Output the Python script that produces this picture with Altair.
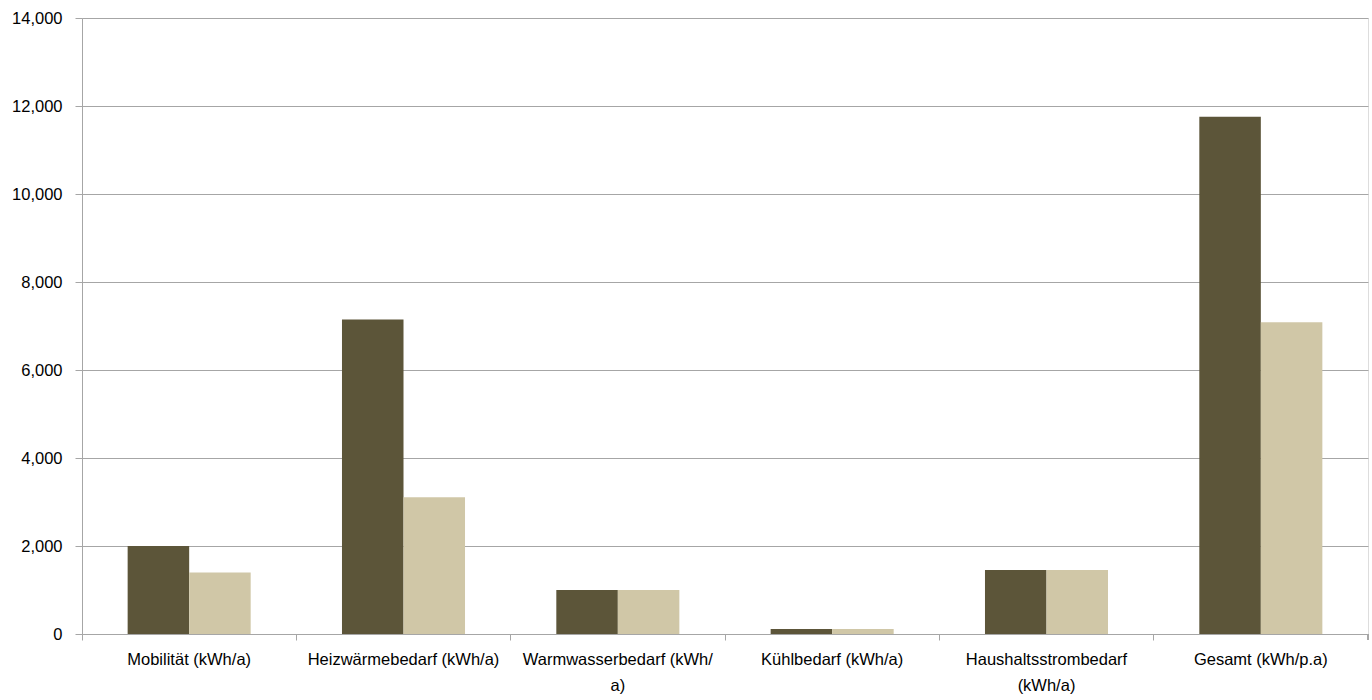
import altair as alt
import pandas as pd

categories = [
    "Mobilität (kWh/a)",
    "Heizwärmebedarf (kWh/a)",
    "Warmwasserbedarf (kWh/a)",
    "Kühlbedarf (kWh/a)",
    "Haushaltsstrombedarf (kWh/a)",
    "Gesamt (kWh/p.a)",
]
label_lines = [
    ["Mobilität (kWh/a)"],
    ["Heizwärmebedarf (kWh/a)"],
    ["Warmwasserbedarf (kWh/", "a)"],
    ["Kühlbedarf (kWh/a)"],
    ["Haushaltsstrombedarf", "(kWh/a)"],
    ["Gesamt (kWh/p.a)"],
]
series_names = ["Serie 1", "Serie 2"]
series1 = [2000, 7150, 1000, 115, 1455, 11755]
series2 = [1395, 3110, 1000, 115, 1455, 7085]
colors = ["#5C5539", "#D0C7A7"]
y_ticks = [0, 2000, 4000, 6000, 8000, 10000, 12000, 14000]

rows = []
for c, a, b in zip(categories, series1, series2):
    rows.append({"Kategorie": c, "Serie": series_names[0], "Wert": a})
    rows.append({"Kategorie": c, "Serie": series_names[1], "Wert": b})
df = pd.DataFrame(rows)

# label expression for line-wrapped category labels
parts = []
for c, lines in zip(categories, label_lines):
    arr = "[" + ",".join("'" + l + "'" for l in lines) + "]"
    parts.append(f"datum.value == '{c}' ? {arr} : ")
label_expr = "".join(parts) + "datum.value"

W, H = 1286, 616
grey = "#A6A6A6"
font = "Liberation Sans"
fsize = 16.5

bars = alt.Chart(df).mark_bar().encode(
    x=alt.X(
        "Kategorie:N",
        sort=categories,
        scale=alt.Scale(paddingInner=0, paddingOuter=0),
        axis=alt.Axis(
            title=None,
            labelAngle=0,
            bandPosition=0,
            labelExpr=label_expr,
            labelFont=font,
            labelFontSize=fsize,
            labelColor="#000000",
            labelPadding=11,
            labelLineHeight=26,
            labelLimit=300,
            tickColor=grey,
            tickSize=6,
            domainColor=grey,
            grid=False,
        ),
    ),
    xOffset=alt.XOffset(
        "Serie:N",
        sort=series_names,
        scale=alt.Scale(paddingInner=0, paddingOuter=0.742),
    ),
    y=alt.Y(
        "Wert:Q",
        scale=alt.Scale(domain=[0, 14000], nice=False),
        axis=alt.Axis(
            title=None,
            values=y_ticks,
            format=",d",
            labelFont=font,
            labelFontSize=fsize,
            labelColor="#000000",
            labelPadding=13,
            tickColor=grey,
            tickSize=7,
            domainColor=grey,
            gridColor=grey,
            gridWidth=1,
        ),
    ),
    color=alt.Color(
        "Serie:N",
        sort=series_names,
        scale=alt.Scale(domain=series_names, range=colors),
        legend=None,
    ),
)

end_tick = alt.Chart(df).mark_rule(color=grey).encode(
    x=alt.value(W), y=alt.value(H), y2=alt.value(H + 6)
)

chart = alt.layer(bars, end_tick).properties(
    width=W,
    height=H,
    autosize=alt.AutoSizeParams(type="none"),
    padding={"left": 82, "top": 18, "right": 4, "bottom": 66},
).configure_view(stroke=None).configure(background="white")

chart.save("out.html", embed_options={"renderer": "svg", "actions": False})
